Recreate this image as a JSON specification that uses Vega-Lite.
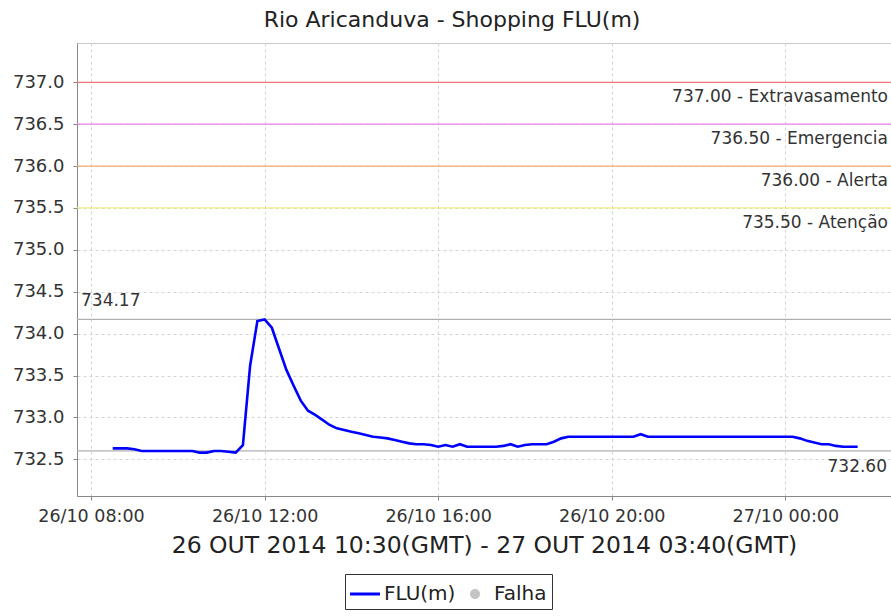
{
  "$schema": "https://vega.github.io/schema/vega-lite/v6.json",
  "width": 814,
  "height": 453,
  "autosize": {"type": "none"},
  "padding": {"left": 77, "top": 43, "right": 0, "bottom": 120},
  "title": {"text": "Rio Aricanduva - Shopping FLU(m)", "fontSize": 22, "fontWeight": "normal", "color": "#222", "frame": "bounds", "offset": 11, "font": "DejaVu Sans"},
  "datasets": {
    "serie": [
      {"t": "2014-10-26T08:30:00Z", "nivel": 732.63},
      {"t": "2014-10-26T08:40:00Z", "nivel": 732.63},
      {"t": "2014-10-26T08:50:00Z", "nivel": 732.63},
      {"t": "2014-10-26T09:00:00Z", "nivel": 732.62},
      {"t": "2014-10-26T09:10:00Z", "nivel": 732.60},
      {"t": "2014-10-26T09:20:00Z", "nivel": 732.60},
      {"t": "2014-10-26T09:30:00Z", "nivel": 732.60},
      {"t": "2014-10-26T09:40:00Z", "nivel": 732.60},
      {"t": "2014-10-26T09:50:00Z", "nivel": 732.60},
      {"t": "2014-10-26T10:00:00Z", "nivel": 732.60},
      {"t": "2014-10-26T10:10:00Z", "nivel": 732.60},
      {"t": "2014-10-26T10:20:00Z", "nivel": 732.60},
      {"t": "2014-10-26T10:30:00Z", "nivel": 732.58},
      {"t": "2014-10-26T10:40:00Z", "nivel": 732.58},
      {"t": "2014-10-26T10:50:00Z", "nivel": 732.60},
      {"t": "2014-10-26T11:00:00Z", "nivel": 732.60},
      {"t": "2014-10-26T11:10:00Z", "nivel": 732.59},
      {"t": "2014-10-26T11:20:00Z", "nivel": 732.58},
      {"t": "2014-10-26T11:30:00Z", "nivel": 732.67},
      {"t": "2014-10-26T11:40:00Z", "nivel": 733.62},
      {"t": "2014-10-26T11:50:00Z", "nivel": 734.15},
      {"t": "2014-10-26T12:00:00Z", "nivel": 734.17},
      {"t": "2014-10-26T12:10:00Z", "nivel": 734.07},
      {"t": "2014-10-26T12:20:00Z", "nivel": 733.82},
      {"t": "2014-10-26T12:30:00Z", "nivel": 733.57},
      {"t": "2014-10-26T12:40:00Z", "nivel": 733.38},
      {"t": "2014-10-26T12:50:00Z", "nivel": 733.20},
      {"t": "2014-10-26T13:00:00Z", "nivel": 733.08},
      {"t": "2014-10-26T13:10:00Z", "nivel": 733.03},
      {"t": "2014-10-26T13:20:00Z", "nivel": 732.97},
      {"t": "2014-10-26T13:30:00Z", "nivel": 732.91},
      {"t": "2014-10-26T13:40:00Z", "nivel": 732.87},
      {"t": "2014-10-26T13:50:00Z", "nivel": 732.85},
      {"t": "2014-10-26T14:00:00Z", "nivel": 732.83},
      {"t": "2014-10-26T14:10:00Z", "nivel": 732.81},
      {"t": "2014-10-26T14:20:00Z", "nivel": 732.79},
      {"t": "2014-10-26T14:30:00Z", "nivel": 732.77},
      {"t": "2014-10-26T14:40:00Z", "nivel": 732.76},
      {"t": "2014-10-26T14:50:00Z", "nivel": 732.75},
      {"t": "2014-10-26T15:00:00Z", "nivel": 732.73},
      {"t": "2014-10-26T15:10:00Z", "nivel": 732.71},
      {"t": "2014-10-26T15:20:00Z", "nivel": 732.69},
      {"t": "2014-10-26T15:30:00Z", "nivel": 732.68},
      {"t": "2014-10-26T15:40:00Z", "nivel": 732.68},
      {"t": "2014-10-26T15:50:00Z", "nivel": 732.67},
      {"t": "2014-10-26T16:00:00Z", "nivel": 732.65},
      {"t": "2014-10-26T16:10:00Z", "nivel": 732.67},
      {"t": "2014-10-26T16:20:00Z", "nivel": 732.65},
      {"t": "2014-10-26T16:30:00Z", "nivel": 732.68},
      {"t": "2014-10-26T16:40:00Z", "nivel": 732.65},
      {"t": "2014-10-26T16:50:00Z", "nivel": 732.65},
      {"t": "2014-10-26T17:00:00Z", "nivel": 732.65},
      {"t": "2014-10-26T17:10:00Z", "nivel": 732.65},
      {"t": "2014-10-26T17:20:00Z", "nivel": 732.65},
      {"t": "2014-10-26T17:30:00Z", "nivel": 732.66},
      {"t": "2014-10-26T17:40:00Z", "nivel": 732.68},
      {"t": "2014-10-26T17:50:00Z", "nivel": 732.65},
      {"t": "2014-10-26T18:00:00Z", "nivel": 732.67},
      {"t": "2014-10-26T18:10:00Z", "nivel": 732.68},
      {"t": "2014-10-26T18:20:00Z", "nivel": 732.68},
      {"t": "2014-10-26T18:30:00Z", "nivel": 732.68},
      {"t": "2014-10-26T18:40:00Z", "nivel": 732.71},
      {"t": "2014-10-26T18:50:00Z", "nivel": 732.75},
      {"t": "2014-10-26T19:00:00Z", "nivel": 732.77},
      {"t": "2014-10-26T19:10:00Z", "nivel": 732.77},
      {"t": "2014-10-26T19:20:00Z", "nivel": 732.77},
      {"t": "2014-10-26T19:30:00Z", "nivel": 732.77},
      {"t": "2014-10-26T19:40:00Z", "nivel": 732.77},
      {"t": "2014-10-26T19:50:00Z", "nivel": 732.77},
      {"t": "2014-10-26T20:00:00Z", "nivel": 732.77},
      {"t": "2014-10-26T20:10:00Z", "nivel": 732.77},
      {"t": "2014-10-26T20:20:00Z", "nivel": 732.77},
      {"t": "2014-10-26T20:30:00Z", "nivel": 732.77},
      {"t": "2014-10-26T20:40:00Z", "nivel": 732.80},
      {"t": "2014-10-26T20:50:00Z", "nivel": 732.77},
      {"t": "2014-10-26T21:00:00Z", "nivel": 732.77},
      {"t": "2014-10-26T21:10:00Z", "nivel": 732.77},
      {"t": "2014-10-26T21:20:00Z", "nivel": 732.77},
      {"t": "2014-10-26T21:30:00Z", "nivel": 732.77},
      {"t": "2014-10-26T21:40:00Z", "nivel": 732.77},
      {"t": "2014-10-26T21:50:00Z", "nivel": 732.77},
      {"t": "2014-10-26T22:00:00Z", "nivel": 732.77},
      {"t": "2014-10-26T22:10:00Z", "nivel": 732.77},
      {"t": "2014-10-26T22:20:00Z", "nivel": 732.77},
      {"t": "2014-10-26T22:30:00Z", "nivel": 732.77},
      {"t": "2014-10-26T22:40:00Z", "nivel": 732.77},
      {"t": "2014-10-26T22:50:00Z", "nivel": 732.77},
      {"t": "2014-10-26T23:00:00Z", "nivel": 732.77},
      {"t": "2014-10-26T23:10:00Z", "nivel": 732.77},
      {"t": "2014-10-26T23:20:00Z", "nivel": 732.77},
      {"t": "2014-10-26T23:30:00Z", "nivel": 732.77},
      {"t": "2014-10-26T23:40:00Z", "nivel": 732.77},
      {"t": "2014-10-26T23:50:00Z", "nivel": 732.77},
      {"t": "2014-10-27T00:00:00Z", "nivel": 732.77},
      {"t": "2014-10-27T00:10:00Z", "nivel": 732.77},
      {"t": "2014-10-27T00:20:00Z", "nivel": 732.75},
      {"t": "2014-10-27T00:30:00Z", "nivel": 732.72},
      {"t": "2014-10-27T00:40:00Z", "nivel": 732.70},
      {"t": "2014-10-27T00:50:00Z", "nivel": 732.68},
      {"t": "2014-10-27T01:00:00Z", "nivel": 732.68},
      {"t": "2014-10-27T01:10:00Z", "nivel": 732.66},
      {"t": "2014-10-27T01:20:00Z", "nivel": 732.65},
      {"t": "2014-10-27T01:30:00Z", "nivel": 732.65},
      {"t": "2014-10-27T01:40:00Z", "nivel": 732.65}
    ],
    "niveis": [
      {"valor": 737.0, "rotulo": "737.00 - Extravasamento"},
      {"valor": 736.5, "rotulo": "736.50 - Emergencia"},
      {"valor": 736.0, "rotulo": "736.00 - Alerta"},
      {"valor": 735.5, "rotulo": "735.50 - Atenção"}
    ],
    "extremos": [
      {"valor": 734.17, "tipo": "max"},
      {"valor": 732.60, "tipo": "min"}
    ],
    "legenda": [
      {"serie": "FLU(m)"},
      {"serie": "Falha"}
    ]
  },
  "layer": [
    {
      "data": {"name": "niveis"},
      "mark": {"type": "rule", "strokeWidth": 1.2},
      "encoding": {
        "y": {"field": "valor", "type": "quantitative", "axis": {"title": null}},
        "stroke": {"field": "rotulo", "type": "nominal", "legend": null,
          "scale": {"domain": ["737.00 - Extravasamento", "736.50 - Emergencia", "736.00 - Alerta", "735.50 - Atenção"],
                    "range": ["#f07878", "#ee82ee", "#f4aa70", "#eeee80"]}}
      }
    },
    {
      "data": {"name": "extremos"},
      "mark": {"type": "rule", "color": "#b0b0b0", "strokeWidth": 1.2},
      "encoding": {
        "y": {"field": "valor", "type": "quantitative", "axis": {"title": null}}
      }
    },
    {
      "data": {"name": "serie"},
      "mark": {"type": "line", "color": "#0000ff", "strokeWidth": 2.6},
      "encoding": {
        "x": {"field": "t", "type": "temporal",
          "scale": {"type": "utc", "domain": [
            {"year": 2014, "month": 10, "date": 26, "hours": 7, "minutes": 40, "seconds": 36, "utc": true},
            {"year": 2014, "month": 10, "date": 27, "hours": 2, "minutes": 26, "seconds": 6, "utc": true}], "nice": false},
          "axis": {
            "values": [
              {"year": 2014, "month": 10, "date": 26, "hours": 8, "utc": true},
              {"year": 2014, "month": 10, "date": 26, "hours": 12, "utc": true},
              {"year": 2014, "month": 10, "date": 26, "hours": 16, "utc": true},
              {"year": 2014, "month": 10, "date": 26, "hours": 20, "utc": true},
              {"year": 2014, "month": 10, "date": 27, "hours": 0, "utc": true}],
            "format": "%d/%m %H:%M",
            "labelFontSize": 17.5,
            "labelPadding": 7,
            "title": "26 OUT 2014 10:30(GMT) - 27 OUT 2014 03:40(GMT)",
            "titleFontSize": 23.5,
            "titleFontWeight": "normal",
            "titleColor": "#222",
            "titlePadding": 9,
            "grid": true
          }
        },
        "y": {"field": "nivel", "type": "quantitative",
          "scale": {"domain": [732.062, 737.469], "nice": false, "zero": false},
          "axis": {
            "values": [732.5, 733.0, 733.5, 734.0, 734.5, 735.0, 735.5, 736.0, 736.5, 737.0],
            "format": ".1f",
            "labelFontSize": 18,
            "labelPadding": 9,
            "title": null,
            "grid": true
          }
        }
      }
    },
    {
      "data": {"name": "niveis"},
      "mark": {"type": "text", "align": "right", "baseline": "top", "dx": -3, "dy": 7, "fontSize": 17, "color": "#333", "font": "DejaVu Sans"},
      "encoding": {
        "x": {"datum": {"year": 2014, "month": 10, "date": 27, "hours": 2, "minutes": 26, "seconds": 6, "utc": true}, "type": "temporal", "scale": {"type": "utc"}, "axis": {"title": "26 OUT 2014 10:30(GMT) - 27 OUT 2014 03:40(GMT)"}},
        "y": {"field": "valor", "type": "quantitative", "axis": {"title": null}},
        "text": {"field": "rotulo", "type": "nominal"}
      }
    },
    {
      "data": {"name": "extremos"},
      "transform": [{"filter": "datum.tipo === 'max'"}],
      "mark": {"type": "text", "align": "left", "baseline": "bottom", "dx": 4, "dy": -9, "fontSize": 17, "color": "#333", "font": "DejaVu Sans"},
      "encoding": {
        "x": {"datum": {"year": 2014, "month": 10, "date": 26, "hours": 7, "minutes": 40, "seconds": 36, "utc": true}, "type": "temporal", "scale": {"type": "utc"}, "axis": {"title": "26 OUT 2014 10:30(GMT) - 27 OUT 2014 03:40(GMT)"}},
        "y": {"field": "valor", "type": "quantitative", "axis": {"title": null}},
        "text": {"field": "valor", "type": "quantitative", "format": ".2f"}
      }
    },
    {
      "data": {"name": "extremos"},
      "transform": [{"filter": "datum.tipo === 'min'"}],
      "mark": {"type": "text", "align": "right", "baseline": "top", "dx": -4, "dy": 8, "fontSize": 17, "color": "#333", "font": "DejaVu Sans"},
      "encoding": {
        "x": {"datum": {"year": 2014, "month": 10, "date": 27, "hours": 2, "minutes": 26, "seconds": 6, "utc": true}, "type": "temporal", "scale": {"type": "utc"}, "axis": {"title": "26 OUT 2014 10:30(GMT) - 27 OUT 2014 03:40(GMT)"}},
        "y": {"field": "valor", "type": "quantitative", "axis": {"title": null}},
        "text": {"field": "valor", "type": "quantitative", "format": ".2f"}
      }
    },
    {
      "data": {"name": "legenda"},
      "transform": [{"filter": "false"}],
      "mark": {"type": "point", "filled": true, "opacity": 1},
      "encoding": {
        "color": {"field": "serie", "type": "nominal",
          "scale": {"domain": ["FLU(m)", "Falha"], "range": ["#0000ff", "#c4c4c4"]},
          "legend": {"title": null, "orient": "none", "legendX": 268, "legendY": 531, "direction": "horizontal", "labelFontSize": 20, "labelColor": "#222",
            "symbolSize": 900, "symbolStrokeWidth": 0, "columnPadding": 4, "labelOffset": 4, "padding": 5,
            "strokeColor": "#333",
            "encode": {"legend": {"strokeDash": {"value": [2, 2]}}}}
        },
        "shape": {"field": "serie", "type": "nominal",
          "scale": {"domain": ["FLU(m)", "Falha"], "range": ["M-1,-0.1H1V0.1H-1Z", "M-0.333,0A0.333,0.333,0,1,0,0.333,0A0.333,0.333,0,1,0,-0.333,0Z"]},
          "legend": {"title": null, "orient": "none", "legendX": 268, "legendY": 531, "direction": "horizontal", "labelFontSize": 20, "labelColor": "#222",
            "symbolSize": 900, "symbolStrokeWidth": 0, "columnPadding": 4, "labelOffset": 4, "padding": 5,
            "strokeColor": "#333",
            "encode": {"legend": {"strokeDash": {"value": [2, 2]}}}}
        }
      }
    }
  ],
  "config": {
    "font": "DejaVu Sans",
    "view": {"stroke": "#c8c8c8"},
    "axis": {
      "labelFont": "DejaVu Sans",
      "titleFont": "DejaVu Sans",
      "labelColor": "#333",
      "domainColor": "#888",
      "tickColor": "#888",
      "tickSize": 4,
      "gridColor": "#d4d4d4",
      "gridDash": [3, 3]
    },
    "legend": {"labelFont": "DejaVu Sans"}
  }
}
